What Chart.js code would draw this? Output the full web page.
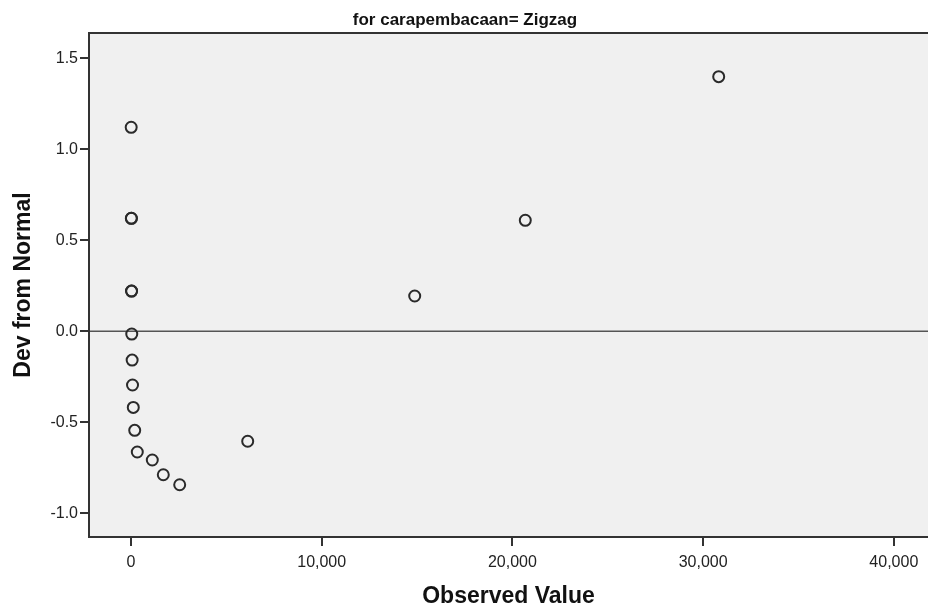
<!DOCTYPE html>
<html>
<head>
<meta charset="utf-8">
<script src="https://cdn.jsdelivr.net/npm/chart.js@4/dist/chart.umd.min.js"></script>
<style>
html,body{margin:0;padding:0;background:#fff;}
#wrap{width:928px;height:613px;position:relative;}
</style>
</head>
<body>
<div id="wrap"><canvas id="c" width="928" height="613"></canvas></div>
<script>
// Data (Detrended Normal Q-Q plot)
const chartTitle = "for carapembacaan= Zigzag";
const xAxisTitle = "Observed Value";
const yAxisTitle = "Dev from Normal";
const observedValues = [10, 20, 20, 30, 30, 40, 60, 80, 120, 195, 330, 1117, 1694, 2554, 6120, 14877, 20676, 30818];
const devFromNormal  = [1.121, 0.621, 0.621, 0.221, 0.221, -0.015, -0.158, -0.295, -0.418, -0.544, -0.663, -0.707, -0.788, -0.843, -0.604, 0.194, 0.610, 1.399];
const xTickValues = [0, 10000, 20000, 30000, 40000];
const yTickValues = [-1.0, -0.5, 0.0, 0.5, 1.0, 1.5];
const xRange = [-2202, 41793];
const yRange = [-1.130, 1.639];
const referenceY = 0;

const points = observedValues.map((v, i) => ({x: v, y: devFromNormal[i]}));

const FONT = "'Liberation Sans', Arial, sans-serif";

const framePlugin = {
  id: 'frame',
  beforeDraw(chart) {
    const {ctx, chartArea: a} = chart;
    ctx.save();
    ctx.fillStyle = '#f0f0f0';
    ctx.fillRect(a.left, a.top, a.right - a.left, a.bottom - a.top);
    ctx.restore();
  },
  beforeDatasetsDraw(chart) {
    const {ctx, chartArea: a, scales} = chart;
    const y0 = scales.y.getPixelForValue(referenceY);
    ctx.save();
    ctx.strokeStyle = '#555';
    ctx.lineWidth = 1.6;
    ctx.beginPath();
    ctx.moveTo(a.left, y0);
    ctx.lineTo(a.right, y0);
    ctx.stroke();
    // frame top, left, bottom
    ctx.strokeStyle = '#333';
    ctx.lineWidth = 2;
    ctx.beginPath();
    ctx.moveTo(a.right, a.top);
    ctx.lineTo(a.left, a.top);
    ctx.lineTo(a.left, a.bottom);
    ctx.lineTo(a.right, a.bottom);
    ctx.stroke();
    ctx.restore();
  },
  afterDraw(chart) {
    const {ctx} = chart;
    ctx.save();
    ctx.fillStyle = '#111';
    ctx.font = "bold 17px " + FONT;
    ctx.textAlign = 'center';
    ctx.textBaseline = 'alphabetic';
    ctx.fillText(chartTitle, chart.width / 2 + 1, 25);
    ctx.restore();
  }
};

new Chart(document.getElementById('c'), {
  type: 'scatter',
  data: {
    datasets: [{
      data: points,
      pointRadius: 5.5,
      pointHoverRadius: 5.5,
      pointBorderWidth: 2,
      borderColor: '#2a2a2a',
      backgroundColor: 'rgba(0,0,0,0)',
      pointBackgroundColor: 'rgba(0,0,0,0)',
      pointBorderColor: '#2a2a2a'
    }]
  },
  options: {
    responsive: false,
    animation: false,
    layout: {autoPadding: false, padding: {top: 33, right: 0, left: 0, bottom: 0}},
    plugins: {legend: {display: false}, title: {display: false}, tooltip: {enabled: false}},
    scales: {
      x: {
        type: 'linear',
        min: xRange[0], max: xRange[1],
        afterFit(s) { s.height = 76; s.paddingLeft = 0; s.paddingRight = 0; },
        afterBuildTicks(s) { s.ticks = xTickValues.map(v => ({value: v})); },
        grid: {display: true, drawOnChartArea: false, drawTicks: true, tickLength: 9, color: '#333', lineWidth: 2},
        border: {display: false},
        ticks: {
          color: '#222', padding: 7, maxRotation: 0, autoSkip: false,
          font: {family: FONT, size: 16},
          callback: v => v.toLocaleString('en-US')
        },
        title: {display: true, text: xAxisTitle, color: '#111', font: {family: FONT, size: 23, weight: 'bold'}, padding: {top: 0, bottom: 3}}
      },
      y: {
        type: 'linear',
        min: yRange[0], max: yRange[1],
        afterFit(s) { s.width = 89; s.paddingTop = 0; s.paddingBottom = 0; },
        afterBuildTicks(s) { s.ticks = yTickValues.map(v => ({value: v})); },
        grid: {display: true, drawOnChartArea: false, drawTicks: true, tickLength: 9, color: '#333', lineWidth: 2},
        border: {display: false},
        ticks: {
          color: '#222', padding: 2, autoSkip: false,
          font: {family: FONT, size: 16},
          callback: v => Number(v).toFixed(1)
        },
        title: {display: true, text: yAxisTitle, color: '#111', font: {family: FONT, size: 23, weight: 'bold'}, padding: {top: 10, bottom: 0}}
      }
    }
  },
  plugins: [framePlugin]
});
</script>
</body>
</html>
